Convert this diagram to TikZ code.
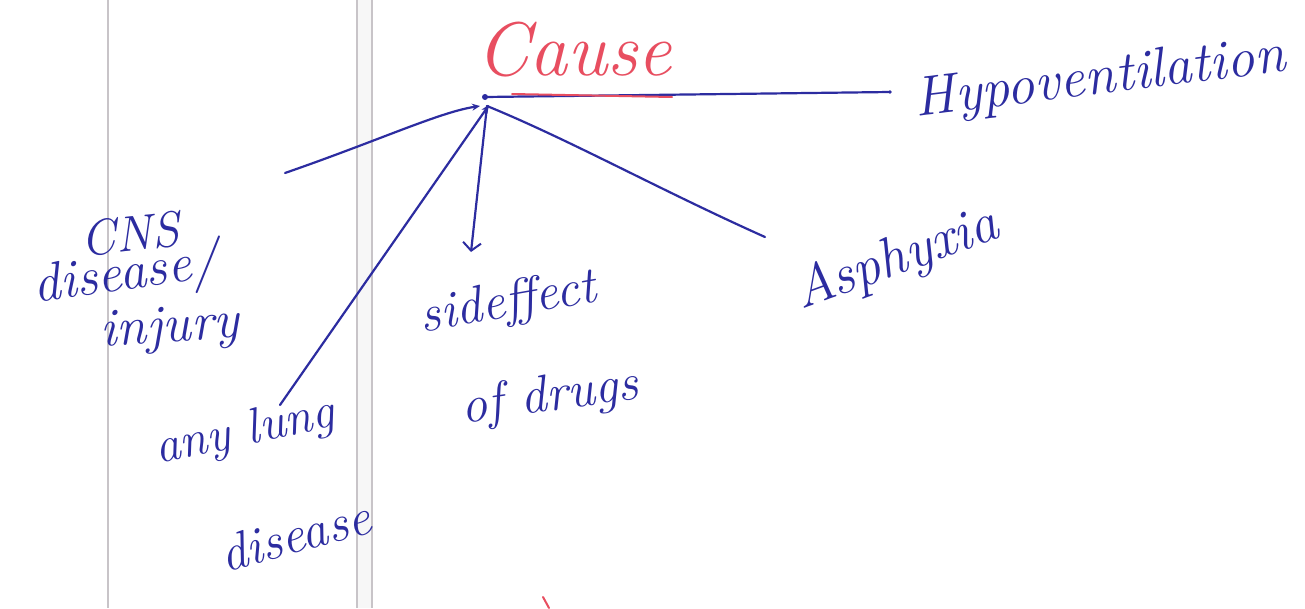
\documentclass[tikz,border=0pt]{standalone}
\usetikzlibrary{arrows.meta}
\definecolor{ink}{RGB}{44,44,160}
\definecolor{redink}{RGB}{232,78,96}
\definecolor{rule}{RGB}{200,196,200}
\begin{document}
\begin{tikzpicture}[x=1pt,y=-1pt,
  pen/.style={draw=ink, line width=2.2pt, line cap=round},
  hand/.style={text=ink, font=\itshape, inner sep=0pt},
  tip/.style={-{Stealth[length=8pt,width=7pt]}},
  hook/.style={-{Straight Barb[length=8pt,width=18pt,line width=2pt]}},
  paperline/.style={draw=rule, line width=1.2pt}]
\useasboundingbox (0,0) rectangle (1305,608);
\fill[white] (0,0) rectangle (1305,608);
% notebook margin lines
\fill[gray!6] (357,0) rectangle (372,608);
\draw[paperline] (108,0) -- (108,608);
\draw[paperline] (357,0) -- (357,608);
\draw[paperline] (372,0) -- (372,608);

% heading
\node[text=redink, font=\itshape\fontsize{76}{80}\selectfont, inner sep=0pt] (cause) at (574,50) {Cause};

% branch point
\coordinate (hub) at (485,97);
\fill[ink] (hub) circle (3pt);

% labels
\node[hand, font=\itshape\fontsize{56}{60}\selectfont, rotate=7] (hypo) at (1100,80) {Hypoventilation};
\node[hand, font=\itshape\fontsize{50}{54}\selectfont, rotate=6] (cns) at (130,234) {CNS};
\node[hand, font=\itshape\fontsize{54}{58}\selectfont, rotate=8] (dis) at (126,276) {disease/};
\node[hand, font=\itshape\fontsize{54}{58}\selectfont, rotate=4] (inj) at (170,330) {injury};
\node[hand, font=\itshape\fontsize{50}{54}\selectfont, rotate=12] (lung) at (245,433) {any lung};
\node[hand, font=\itshape\fontsize{52}{56}\selectfont, rotate=15] (ldis) at (295,535) {disease};
\node[hand, font=\itshape\fontsize{52}{56}\selectfont, rotate=10] (side) at (508,304) {sideffect};
\node[hand, font=\itshape\fontsize{52}{56}\selectfont, rotate=8] (drugs) at (550,398) {of drugs};
\node[hand, font=\itshape\fontsize{56}{60}\selectfont, rotate=20] (asph) at (897,260) {Asphyxia};

% free ends of the connectors
\coordinate (hypoEnd) at (890,92);
\coordinate (cnsEnd) at (285,173);
\coordinate (lungEnd) at (280,405);
\coordinate (sideEnd) at (471,252);
\coordinate (asphEnd) at (765,237);
\coordinate (hubL) at (480,106);
\coordinate (hubR) at (489,105);
\coordinate (hubS) at (487,106);

% connectors
\draw[pen] (hub) -- (hypoEnd);
\fill[ink] (hypoEnd) circle (1.8pt);
\draw[pen, tip] (cnsEnd) .. controls (380,140) and (440,112) .. (hubL);
\draw[pen, tip] (lungEnd) -- (hubR);
\draw[pen, hook] (hubS) -- (sideEnd);
\draw[pen] (hubS) .. controls (570,140) and (660,190) .. (asphEnd);

% red underline of the heading
\coordinate (ulA) at (512,94);
\coordinate (ulB) at (672,97);
\draw[draw=redink, line width=2pt, line cap=round] (ulA) -- (ulB);

% stray red stroke at the lower edge
\coordinate (rmA) at (543,597);
\coordinate (rmB) at (549,608);
\draw[draw=redink, line width=2pt, line cap=round] (rmA) -- (rmB);
\end{tikzpicture}
\end{document}
